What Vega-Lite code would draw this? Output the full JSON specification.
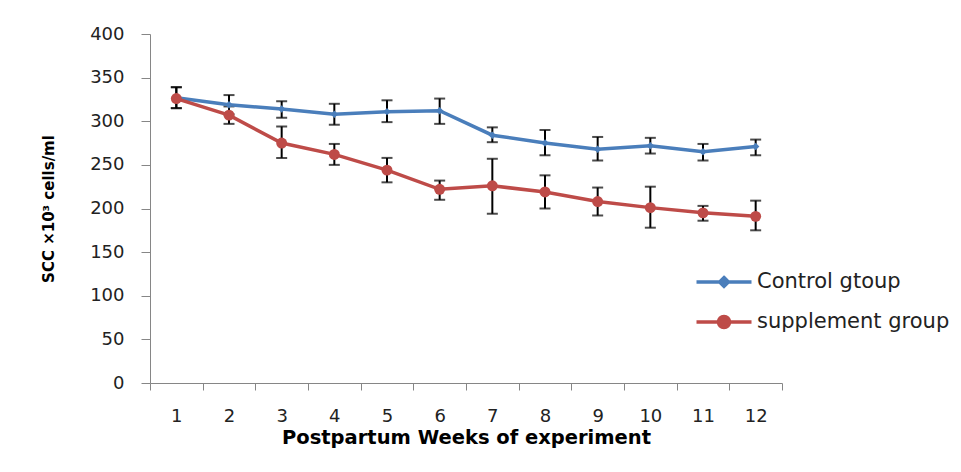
{
  "$schema": "https://vega.github.io/schema/vega-lite/v6.json",
  "width": 632,
  "height": 349,
  "autosize": {"type": "none"},
  "padding": {"left": 150, "top": 34, "right": 179, "bottom": 89},
  "background": "white",
  "config": {"view": {"stroke": null}, "font": "DejaVu Sans"},
  "data": {
    "values": [
      {"week": 1, "group": "Control gtoup", "mean": 327, "lo": 315, "hi": 339},
      {"week": 2, "group": "Control gtoup", "mean": 319, "lo": 308, "hi": 330},
      {"week": 3, "group": "Control gtoup", "mean": 314, "lo": 304, "hi": 323},
      {"week": 4, "group": "Control gtoup", "mean": 308, "lo": 296, "hi": 320},
      {"week": 5, "group": "Control gtoup", "mean": 311, "lo": 299, "hi": 324},
      {"week": 6, "group": "Control gtoup", "mean": 312, "lo": 297, "hi": 326},
      {"week": 7, "group": "Control gtoup", "mean": 284, "lo": 276, "hi": 293},
      {"week": 8, "group": "Control gtoup", "mean": 275, "lo": 261, "hi": 290},
      {"week": 9, "group": "Control gtoup", "mean": 268, "lo": 255, "hi": 282},
      {"week": 10, "group": "Control gtoup", "mean": 272, "lo": 263, "hi": 281},
      {"week": 11, "group": "Control gtoup", "mean": 265, "lo": 255, "hi": 274},
      {"week": 12, "group": "Control gtoup", "mean": 271, "lo": 261, "hi": 279},
      {"week": 1, "group": "supplement group", "mean": 326, "lo": 315, "hi": 339},
      {"week": 2, "group": "supplement group", "mean": 307, "lo": 297, "hi": 317},
      {"week": 3, "group": "supplement group", "mean": 275, "lo": 258, "hi": 294},
      {"week": 4, "group": "supplement group", "mean": 262, "lo": 250, "hi": 274},
      {"week": 5, "group": "supplement group", "mean": 244, "lo": 230, "hi": 258},
      {"week": 6, "group": "supplement group", "mean": 222, "lo": 210, "hi": 232},
      {"week": 7, "group": "supplement group", "mean": 226, "lo": 194, "hi": 257},
      {"week": 8, "group": "supplement group", "mean": 219, "lo": 200, "hi": 238},
      {"week": 9, "group": "supplement group", "mean": 208, "lo": 192, "hi": 224},
      {"week": 10, "group": "supplement group", "mean": 201, "lo": 178, "hi": 225},
      {"week": 11, "group": "supplement group", "mean": 195, "lo": 186, "hi": 203},
      {"week": 12, "group": "supplement group", "mean": 191, "lo": 175, "hi": 209}
    ]
  },
  "encoding": {
    "x": {
      "field": "week",
      "type": "quantitative",
      "scale": {"domain": [0.5, 12.5], "nice": false, "zero": false},
      "axis": {
        "values": [0.5, 1, 1.5, 2, 2.5, 3, 3.5, 4, 4.5, 5, 5.5, 6, 6.5, 7, 7.5, 8, 8.5, 9, 9.5, 10, 10.5, 11, 11.5, 12, 12.5],
        "labelExpr": "datum.value % 1 === 0 ? format(datum.value, 'd') : ''",
        "tickOpacity": {"condition": {"test": "datum.value % 1 === 0", "value": 0}, "value": 1},
        "grid": false,
        "tickSize": 7,
        "domainColor": "#868686",
        "tickColor": "#868686",
        "labelFontSize": 18,
        "labelColor": "#222222",
        "labelPadding": 17,
        "labelFont": "DejaVu Sans",
        "title": "Postpartum Weeks of experiment",
        "titleFontSize": 19.5,
        "titleFontWeight": "bold",
        "titleColor": "#000000",
        "titlePadding": 3,
        "titleFont": "DejaVu Sans"
      }
    }
  },
  "layer": [
    {
      "mark": {"type": "rule", "color": "#000000", "strokeWidth": 2},
      "encoding": {
        "y": {"field": "lo", "type": "quantitative", "title": "SCC ×10³ cells/ml", "scale": {"domain": [0, 400]}},
        "y2": {"field": "hi"}
      }
    },
    {
      "mark": {"type": "tick", "orient": "horizontal", "color": "#000000", "thickness": 2, "size": 11},
      "encoding": {
        "y": {"field": "lo", "type": "quantitative", "title": "SCC ×10³ cells/ml", "scale": {"domain": [0, 400]}}
      }
    },
    {
      "mark": {"type": "tick", "orient": "horizontal", "color": "#000000", "thickness": 2, "size": 11},
      "encoding": {
        "y": {"field": "hi", "type": "quantitative", "title": "SCC ×10³ cells/ml", "scale": {"domain": [0, 400]}}
      }
    },
    {
      "mark": {"type": "line", "strokeWidth": 3.5},
      "encoding": {
        "y": {
          "field": "mean",
          "type": "quantitative",
          "title": "SCC ×10³ cells/ml",
          "scale": {"domain": [0, 400]},
          "axis": {
            "values": [0, 50, 100, 150, 200, 250, 300, 350, 400],
            "grid": false,
            "tickSize": 9,
            "domainColor": "#868686",
            "tickColor": "#868686",
            "labelFontSize": 18,
            "labelColor": "#222222",
            "labelPadding": 17,
            "labelFont": "DejaVu Sans",
            "titleFontSize": 15,
            "titleFontWeight": "bold",
            "titleColor": "#000000",
            "titlePadding": 33,
            "titleFont": "DejaVu Sans"
          }
        },
        "color": {
          "field": "group",
          "type": "nominal",
          "scale": {"domain": ["Control gtoup", "supplement group"], "range": ["#4A7EBB", "#BE4B48"]},
          "legend": {
            "orient": "none",
            "legendX": 561,
            "legendY": 235,
            "title": null,
            "symbolType": "M-2.5,0L2.5,0",
            "symbolSize": 484,
            "symbolStrokeWidth": 3.5,
            "labelFont": "DejaVu Sans",
            "labelFontSize": 21,
            "labelColor": "#222222",
            "labelOffset": 20,
            "labelLimit": 400,
            "rowPadding": 15,
            "encode": {
              "symbols": {
                "update": {
                  "shape": {"signal": "datum.value === 'Control gtoup' ? 'M-2.5,0L2.5,0M0,-0.4L0.4,0L0,0.4L-0.4,0Z' : 'M-2.5,0L2.5,0M0.5,0A0.5,0.5,0,1,1,-0.5,0A0.5,0.5,0,1,1,0.5,0Z'"},
                  "fill": {"signal": "datum.value === 'Control gtoup' ? '#4A7EBB' : '#BE4B48'"},
                  "stroke": {"signal": "datum.value === 'Control gtoup' ? '#4A7EBB' : '#BE4B48'"},
                  "opacity": {"value": 1},
                  "fillOpacity": {"value": 1},
                  "strokeOpacity": {"value": 1}
                }
              }
            }
          }
        }
      }
    },
    {
      "transform": [{"filter": "datum.group === 'Control gtoup'"}],
      "mark": {"type": "point", "filled": true, "opacity": 1, "shape": "diamond", "size": 55, "color": "#4A7EBB"},
      "encoding": {
        "y": {"field": "mean", "type": "quantitative", "title": "SCC ×10³ cells/ml", "scale": {"domain": [0, 400]}}
      }
    },
    {
      "transform": [{"filter": "datum.group === 'supplement group'"}],
      "mark": {"type": "point", "filled": true, "opacity": 1, "shape": "circle", "size": 120, "color": "#BE4B48"},
      "encoding": {
        "y": {"field": "mean", "type": "quantitative", "title": "SCC ×10³ cells/ml", "scale": {"domain": [0, 400]}}
      }
    }
  ]
}
